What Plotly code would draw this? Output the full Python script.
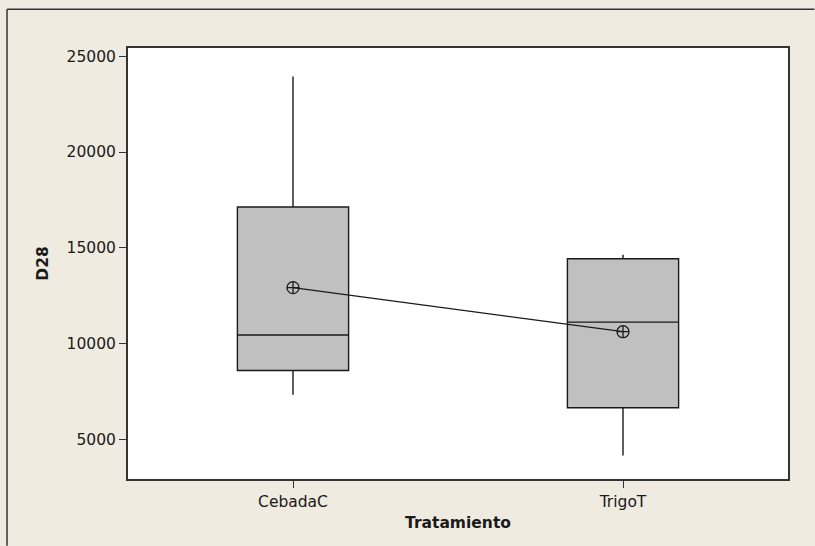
import plotly.graph_objects as go

# Summary statistics of D28 for each treatment
tratamientos = ["CebadaC", "TrigoT"]
minimos = [7330, 4150]
q1 = [8590, 6650]
medianas = [10450, 11120]
q3 = [17130, 14430]
maximos = [23950, 14640]
medias = [12920, 10620]

y_ticks = [5000, 10000, 15000, 20000, 25000]

BG = "#EFEBE0"
INK = "#1a1a1a"
FRAME = "#333333"
FONT = "DejaVu Sans"

fig = go.Figure()

for i, t in enumerate(tratamientos):
    fig.add_trace(go.Box(
        x=[t],
        q1=[q1[i]], median=[medianas[i]], q3=[q3[i]],
        lowerfence=[minimos[i]], upperfence=[maximos[i]],
        width=0.337,
        fillcolor="#C0C0C0",
        line=dict(color=INK, width=1.4),
        whiskerwidth=0,
        boxpoints=False,
        showlegend=False,
    ))

# Mean connect line with circle-cross symbols
fig.add_trace(go.Scatter(
    x=tratamientos, y=medias,
    mode="lines+markers",
    line=dict(color=INK, width=1.2),
    marker=dict(symbol="circle-cross-open", size=12, color=INK, line=dict(width=1.3, color=INK)),
    showlegend=False,
))

# Outer graph frame: only the left and top edges fall inside the page
frame_edges = [
    dict(type="line", xref="paper", yref="paper", x0=-0.1833, x1=-0.1833, y0=-0.155, y1=1.0898),
    dict(type="line", xref="paper", yref="paper", x0=-0.1833, x1=1.04, y0=1.0898, y1=1.0898),
]
for e in frame_edges:
    e["line"] = dict(color=FRAME, width=1.5)
    e["layer"] = "below"

fig.update_layout(
    width=815, height=546,
    margin=dict(l=128, r=27, t=48, b=67),
    paper_bgcolor=BG,
    plot_bgcolor="white",
    font=dict(family=FONT, size=15.5, color=INK),
    shapes=frame_edges,
)

fig.update_xaxes(
    type="category",
    range=[-0.5, 1.5],
    showline=True, mirror=True, linecolor=FRAME, linewidth=2,
    ticks="outside", ticklen=7, tickcolor=FRAME, tickwidth=1,
    showgrid=False, zeroline=False,
    title=dict(text="<b>Tratamiento</b>", font=dict(family=FONT, size=15.5), standoff=8),
)

fig.update_yaxes(
    range=[2927, 25433],
    tickvals=y_ticks,
    ticktext=[str(v) for v in y_ticks],
    showline=True, mirror=True, linecolor=FRAME, linewidth=2,
    ticks="outside", ticklen=7, tickcolor=FRAME, tickwidth=1,
    showgrid=False, zeroline=False,
    title=dict(text="<b>D28</b>", font=dict(family=FONT, size=15.5), standoff=14),
)

fig.write_html("out.html")
